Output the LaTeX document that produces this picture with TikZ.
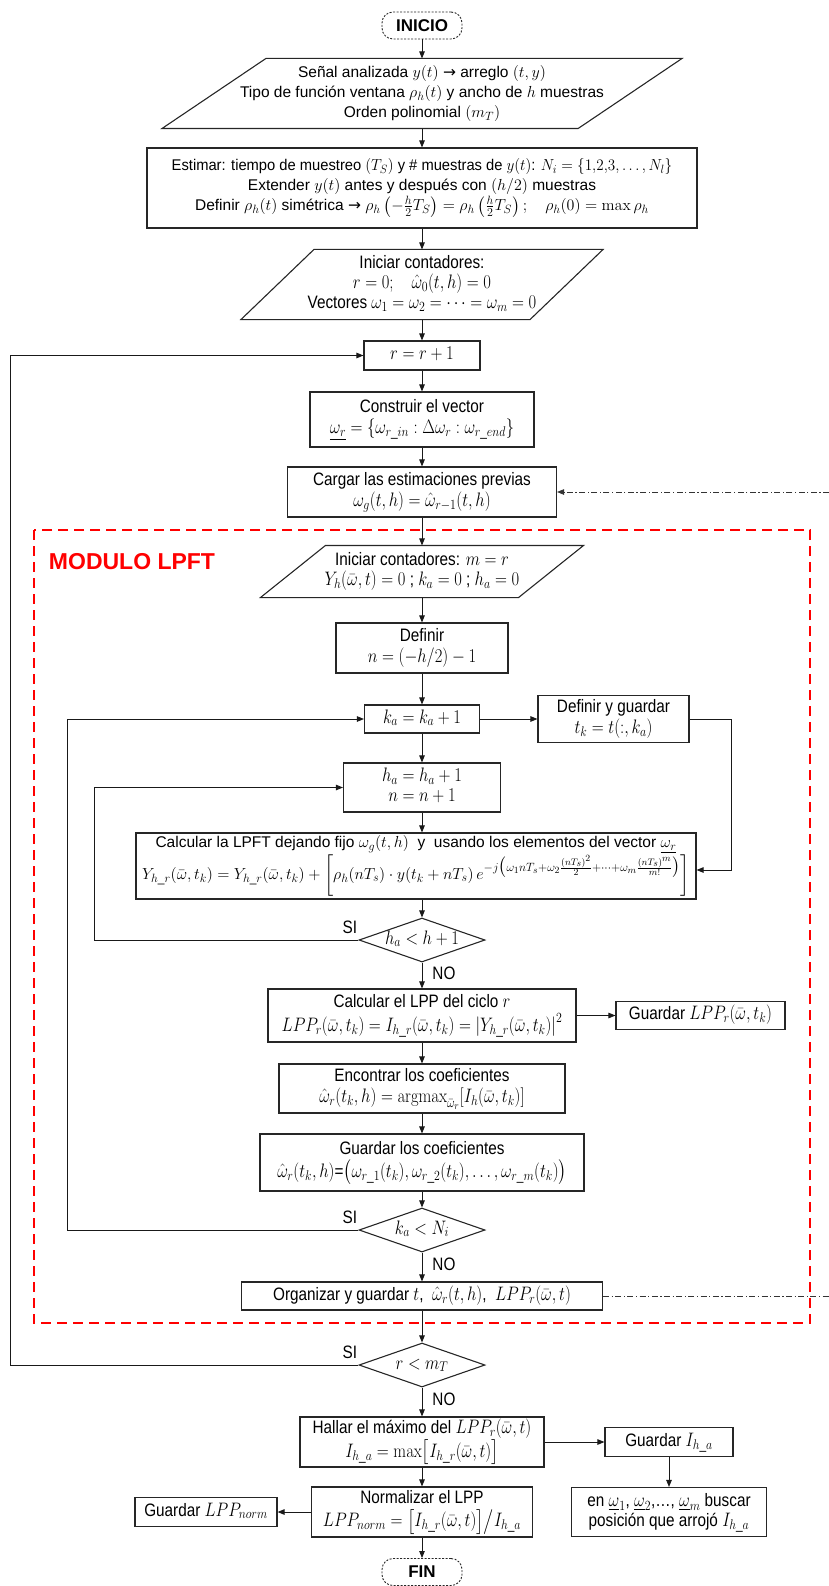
\documentclass[tikz,border=0pt]{standalone}
\usepackage{fix-cm}
\usepackage[no-math]{fontspec}
\setmainfont{Liberation Sans}
\newfontfamily\simbolos{DejaVu Sans}
\usepackage{amsmath}
\usepackage{graphicx}
\usetikzlibrary{arrows.meta,calc,positioning,shapes.geometric}

% Formulas algo mayores que el texto que las rodea
\DeclareMathSizes{18}{19.5}{14}{11}
\DeclareMathSizes{15.5}{16}{12}{9.5}

% Guion bajo dentro de subindices (h_r, r_in, ...)
\newcommand{\gbajo}{\text{\_}}
% Flecha dentro del texto
\newcommand{\flechita}{{\simbolos →}}
% Texto angosto: se comprime solo en horizontal
\newcommand{\ang}[1]{\scalebox{0.85}[1]{\begin{tabular}{@{}c@{}}#1\end{tabular}}}
% Contorno de un bloque de datos (paralelogramo) alrededor de un nodo
\newcommand{\paralelo}[2]{%
    \draw[borde] ($(#1.north west)+(#2,0)$) -- ($(#1.north east)+(#2,0)$)
        -- ($(#1.south east)-(#2,0)$) -- ($(#1.south west)-(#2,0)$) -- cycle;}

\tikzset{
    borde/.style={draw=black!85, line width=1.1pt},
    caja/.style={borde, align=center, inner sep=0pt, font=\fontsize{18}{20}\selectfont},
    ancha/.style={font=\fontsize{15.5}{20}\selectfont},
    decision/.style={caja, diamond, aspect=2.9, inner sep=-3pt, minimum width=126pt, minimum height=44pt},
    terminal/.style={draw=black!85, line width=0.9pt, dash pattern=on 2pt off 1.5pt,
        rounded corners=11pt, minimum width=80pt, minimum height=27pt, inner sep=0pt,
        font=\fontsize{17}{17}\selectfont\bfseries},
    flecha/.style={draw=black!90, line width=0.9pt, -{Triangle[length=7pt,width=5.5pt]}},
    enlace/.style={draw=black!80, line width=0.9pt, dash pattern=on 6pt off 2.5pt on 1.2pt off 2.5pt},
    etiq/.style={font=\fontsize{18}{18}\selectfont, inner sep=1pt},
    marco/.style={draw=red, line width=2.6pt, dash pattern=on 10pt off 6pt}
}

\begin{document}
\begin{tikzpicture}[x=1pt,y=-1pt]
    \useasboundingbox (0,0) rectangle (829,1586);
    % Eje vertical del diagrama
    \pgfmathsetmacro{\ejex}{422}

    % Inicio y datos de entrada
    \node[terminal] (inicio) at (\ejex,25.5) {INICIO};
    \node[caja, ancha, draw=none, minimum width=415pt, minimum height=69pt] (senal) at (\ejex,93.5)
        {Señal analizada $y(t)$ \flechita{} arreglo $(t,y)$\\
         Tipo de función ventana $\rho_h(t)$ y ancho de $h$ muestras\\
         Orden polinomial $(m_T)$};
    \paralelo{senal}{52}
    \node[caja, ancha, minimum width=550pt, minimum height=80pt] (estimar) at (\ejex,188)
        {\scalebox{0.95}[1]{Estimar: tiempo de muestreo $(T_S)$ y \# muestras de $y(t)$: $N_i=\{1{,}2{,}3,\dots,N_l\}$}\\
         Extender $y(t)$ antes y después con $(h/2)$ muestras\\
         Definir $\rho_h(t)$ simétrica \flechita{} $\rho_h\left(-\frac{h}{2}T_S\right)=\rho_h\left(\frac{h}{2}T_S\right);\quad\rho_h(0)=\max\rho_h$};
    \node[caja, draw=none, minimum width=288pt, minimum height=69pt] (contadores) at (\ejex,284.5)
        {\ang{Iniciar contadores:\\ $r=0;\quad\hat{\omega}_0(t,h)=0$\\ Vectores $\omega_1=\omega_2=\cdots=\omega_m=0$}};
    \paralelo{contadores}{36.5}

    % Ciclo externo sobre el orden r
    \node[caja, minimum width=116pt, minimum height=29pt] (rmas) at (\ejex,355.5) {\ang{$r=r+1$}};
    \node[caja, minimum width=224pt, minimum height=55pt] (construir) at (\ejex,419.5)
        {\ang{Construir el vector\\ $\underline{\omega_r}=\left\{\omega_{r\gbajo in}:\Delta\omega_r:\omega_{r\gbajo end}\right\}$}};
    \node[caja, minimum width=269pt, minimum height=50pt] (cargar) at (\ejex,492)
        {\ang{Cargar las estimaciones previas\\ $\omega_g(t,h)=\hat{\omega}_{r-1}(t,h)$}};

    % Modulo LPFT
    \draw[marco] (34,530) rectangle (810,1323);
    \node[text=red, font=\fontsize{23}{23}\selectfont\bfseries] (titulo) at (132,562) {MODULO LPFT};
    \node[caja, draw=none, minimum width=257pt, minimum height=51pt] (lpftcont) at (\ejex,571.5)
        {\ang{Iniciar contadores: $m=r$\\ $Y_h(\bar{\omega},t)=0$ ; $k_a=0$ ; $h_a=0$}};
    \paralelo{lpftcont}{32.5}
    \node[caja, minimum width=172pt, minimum height=50pt] (definir) at (\ejex,648)
        {\ang{Definir\\ $n=(-h/2)-1$}};
    \node[caja, minimum width=115pt, minimum height=28pt] (ka) at (\ejex,719) {\ang{$k_a=k_a+1$}};
    \node[caja, minimum width=151pt, minimum height=47pt] (defguard) at (613.5,719)
        {\ang{Definir y guardar\\ $t_k=t(:,k_a)$}};
    \node[caja, minimum width=157pt, minimum height=49pt] (ha) at (\ejex,787.5)
        {\ang{$h_a=h_a+1$\\ $n=n+1$}};
    \node[caja, font=\fontsize{15.5}{20}\selectfont, minimum width=560pt, minimum height=66pt] (calc) at (416,866)
        {Calcular la LPFT dejando fijo $\omega_g(t,h)$\ \ y\ \ usando los elementos del vector $\underline{\omega_r}$\\
         $Y_{h\gbajo r}(\bar{\omega},t_k)=Y_{h\gbajo r}(\bar{\omega},t_k)+\biggl[\rho_h(nT_s)\cdot y(t_k+nT_s)\,e^{-j\bigl(\omega_1 nT_s+\omega_2\frac{(nT_s)^2}{2}+\cdots+\omega_m\frac{(nT_s)^m}{m!}\bigr)}\biggr]$};
    \node[decision] (dia1) at (\ejex,940) {\ang{$h_a<h+1$}};
    \node[caja, minimum width=308pt, minimum height=53pt] (lpp) at (\ejex,1015.5)
        {\ang{Calcular el LPP del ciclo $r$\\ $LPP_r(\bar{\omega},t_k)=I_{h\gbajo r}(\bar{\omega},t_k)=\left|Y_{h\gbajo r}(\bar{\omega},t_k)\right|^2$}};
    \node[caja, minimum width=169pt, minimum height=28pt] (guardlpp) at (700.5,1015.5)
        {\ang{Guardar $LPP_r(\bar{\omega},t_k)$}};
    \node[caja, minimum width=286pt, minimum height=49pt] (encontrar) at (\ejex,1088.5)
        {\ang{Encontrar los coeficientes\\ $\hat{\omega}_r(t_k,h)=\mathrm{argmax}_{\bar{\omega}_r}[I_h(\bar{\omega},t_k)]$}};
    \node[caja, minimum width=324pt, minimum height=57pt] (guardcoef) at (\ejex,1162.5)
        {\ang{Guardar los coeficientes\\ $\hat{\omega}_r(t_k,h)$=$\bigl(\omega_{r\gbajo 1}(t_k),\omega_{r\gbajo 2}(t_k),\dots,\omega_{r\gbajo m}(t_k)\bigr)$}};
    \node[decision] (dia2) at (\ejex,1230) {\ang{$k_a<N_i$}};
    \node[caja, minimum width=361pt, minimum height=28pt] (organizar) at (\ejex,1296)
        {\ang{Organizar y guardar $t$,\ \ $\hat{\omega}_r(t,h)$,\ \ $LPP_r(\bar{\omega},t)$}};

    % Cierre del ciclo externo y normalizacion
    \node[decision] (dia3) at (\ejex,1365) {\ang{$r<m_T$}};
    \node[caja, minimum width=244pt, minimum height=50pt] (hallar) at (\ejex,1442)
        {\ang{Hallar el máximo del $LPP_r(\bar{\omega},t)$\\ $I_{h\gbajo a}=\max\bigl[I_{h\gbajo r}(\bar{\omega},t)\bigr]$}};
    \node[caja, minimum width=128pt, minimum height=29pt] (guardI) at (669,1442) {\ang{Guardar $I_{h\gbajo a}$}};
    \node[caja, minimum width=221pt, minimum height=50pt] (normalizar) at (\ejex,1512)
        {\ang{Normalizar el LPP\\ $LPP_{norm}=\bigl[I_{h\gbajo r}(\bar{\omega},t)\bigr]\big/I_{h\gbajo a}$}};
    \node[caja, minimum width=142pt, minimum height=29pt] (guardnorm) at (206,1512) {\ang{Guardar $LPP_{norm}$}};
    \node[caja, minimum width=195pt, minimum height=49pt] (enbuscar) at (669,1512)
        {\ang{en $\underline{\omega}_1$, $\underline{\omega}_2$,\dots, $\underline{\omega}_m$ buscar\\ posición que arrojó $I_{h\gbajo a}$}};
    \node[terminal] (fin) at (\ejex,1572) {FIN};

    % Flechas del flujo principal
    \foreach \a/\b in {inicio/senal, senal/estimar, estimar/contadores, contadores/rmas,
        rmas/construir, construir/cargar, cargar/lpftcont, lpftcont/definir, definir/ka,
        ka/ha, ha/calc, lpp/encontrar, encontrar/guardcoef, guardcoef/dia2,
        organizar/dia3, hallar/normalizar, normalizar/fin}
        \draw[flecha] (\a.south) -- (\a.south |- \b.north);
    \draw[flecha] (calc.south -| dia1.north) -- (dia1.north);

    % Salidas NO de las decisiones
    \draw[flecha] (dia1.south) -- node[etiq, right, xshift=9pt]{\ang{NO}} (dia1.south |- lpp.north);
    \draw[flecha] (dia2.south) -- node[etiq, right, xshift=9pt]{\ang{NO}} (dia2.south |- organizar.north);
    \draw[flecha] (dia3.south) -- node[etiq, right, xshift=9pt]{\ang{NO}} (dia3.south |- hallar.north);

    % Lazos de retorno (SI)
    \coordinate (lazoh) at (94,0);
    \coordinate (lazok) at (67,0);
    \coordinate (lazor) at (10.6,0);
    \draw[flecha] (dia1.west) node[etiq, anchor=south east]{\ang{SI}}
        -- (dia1.west -| lazoh) |- (ha.west);
    \draw[flecha] (dia2.west) node[etiq, anchor=south east]{\ang{SI}}
        -- (dia2.west -| lazok) |- (ka.west);
    \draw[flecha] (dia3.west) node[etiq, anchor=south east]{\ang{SI}}
        -- (dia3.west -| lazor) |- (rmas.west);

    % Ramas laterales
    \coordinate (dercalc) at (731,870);
    \draw[flecha] (ka.east) -- (ka.east -| defguard.west);
    \draw[flecha] (defguard.east) -| (dercalc) -- (dercalc -| calc.east);
    \draw[flecha] (lpp.east) -- (lpp.east -| guardlpp.west);
    \draw[flecha] (hallar.east) -- (hallar.east -| guardI.west);
    \draw[flecha] (guardI.south) -- (guardI.south |- enbuscar.north);
    \draw[flecha] (normalizar.west) -- (normalizar.west -| guardnorm.east);

    % Enlace de estimaciones entre ciclos
    \coordinate (borde) at (829,0);
    \draw[enlace, -{Triangle[length=7pt,width=5.5pt]}] (cargar.east -| borde) -- (cargar.east);
    \draw[enlace] (organizar.east) -- (organizar.east -| borde);
\end{tikzpicture}
\end{document}
